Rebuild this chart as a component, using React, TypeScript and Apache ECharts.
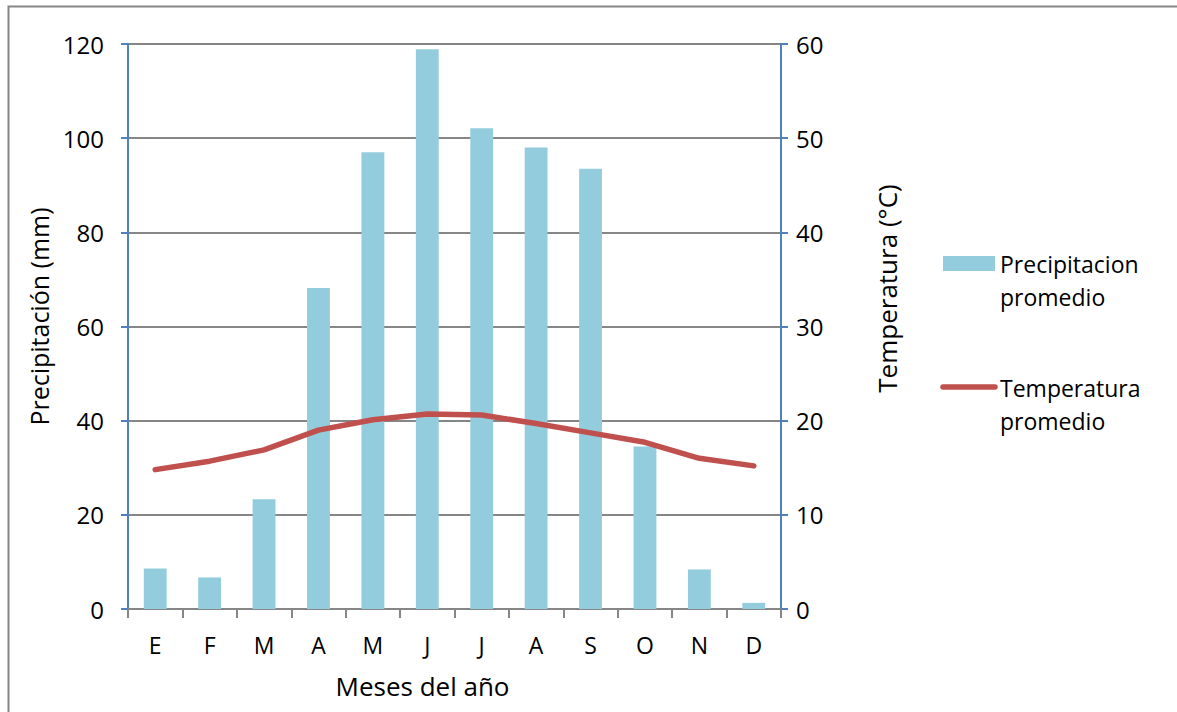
import React, { useEffect, useRef } from "react";
import * as echarts from "echarts";

const months = ["E", "F", "M", "A", "M", "J", "J", "A", "S", "O", "N", "D"];
const precipitation = [8.6, 6.7, 23.3, 68.2, 97.0, 118.9, 102.1, 98.0, 93.5, 34.5, 8.4, 1.3];
const temperature = [14.8, 15.7, 16.9, 19.0, 20.1, 20.7, 20.6, 19.7, 18.7, 17.7, 16.0, 15.2];
const leftTicks = { min: 0, max: 120, interval: 20 };
const rightTicks = { min: 0, max: 60, interval: 10 };

const FONT = "'Open Sans', sans-serif";
const BAR = "#93CDDD";
const LINE = "#C0504D";
const AXIS_BLUE = "#4F81BD";
const GRAY = "#868686";

export default function App() {
  const ref = useRef<HTMLDivElement>(null);
  useEffect(() => {
    if (!ref.current) return;
    const chart = echarts.init(ref.current, null, { renderer: "svg" });
    chart.setOption({
      animation: false,
      backgroundColor: "#ffffff",
      textStyle: { fontFamily: FONT },
      grid: { left: 128, right: 396, top: 44, bottom: 103 },
      xAxis: {
        type: "category",
        data: months,
        name: "Meses del año",
        nameLocation: "middle",
        nameGap: 64,
        nameTextStyle: { fontSize: 26, color: "#000", fontFamily: FONT, padding: [0, 64, 0, 0] },
        axisLine: { lineStyle: { color: GRAY, width: 2 } },
        axisTick: { show: true, length: 9, lineStyle: { color: GRAY, width: 2 } },
        axisLabel: { margin: 24, fontSize: 23, color: "#000", fontFamily: FONT },
      },
      yAxis: [
        {
          type: "value",
          min: leftTicks.min,
          max: leftTicks.max,
          interval: leftTicks.interval,
          name: "Precipitación (mm)",
          nameLocation: "middle",
          nameGap: 73,
          nameRotate: 90,
          nameTextStyle: { fontSize: 25, color: "#000", fontFamily: FONT, padding: [0, 0, 0, 20] },
          axisLine: { show: true, lineStyle: { color: AXIS_BLUE, width: 2 } },
          axisTick: { show: true, length: 7, lineStyle: { color: AXIS_BLUE, width: 2 } },
          axisLabel: { margin: 24, fontSize: 24, color: "#000", fontFamily: FONT },
          splitLine: { show: true, lineStyle: { color: GRAY, width: 2 } },
        },
        {
          type: "value",
          min: rightTicks.min,
          max: rightTicks.max,
          interval: rightTicks.interval,
          name: "Temperatura (°C)",
          nameLocation: "middle",
          nameGap: 93,
          nameRotate: 90,
          nameTextStyle: { fontSize: 26, color: "#000", fontFamily: FONT, padding: [0, 0, 0, 76] },
          axisLine: { show: true, lineStyle: { color: AXIS_BLUE, width: 2 } },
          axisTick: { show: true, length: 7, lineStyle: { color: AXIS_BLUE, width: 2 } },
          axisLabel: { margin: 15, fontSize: 24, color: "#000", fontFamily: FONT },
          splitLine: { show: false },
        },
      ],
      series: [
        {
          name: "Precipitacion promedio",
          type: "bar",
          yAxisIndex: 0,
          data: precipitation,
          barCategoryGap: "58%",
          itemStyle: { color: BAR },
        },
        {
          name: "Temperatura promedio",
          type: "line",
          yAxisIndex: 1,
          data: temperature,
          showSymbol: false,
          symbol: "none",
          lineStyle: { color: LINE, width: 5.5, cap: "round", join: "round" },
          itemStyle: { color: LINE },
        },
      ],
      graphic: [
        {
          type: "rect",
          silent: true,
          shape: { x: 8.5, y: 6.5, width: 1200, height: 800 },
          style: { fill: "none", stroke: GRAY, lineWidth: 2 },
          z: -10,
        },
        {
          type: "rect",
          shape: { x: 943, y: 256, width: 52, height: 15 },
          style: { fill: BAR },
        },
        {
          type: "text",
          x: 1000,
          y: 280,
          style: {
            text: "Precipitacion\npromedio",
            font: `23px ${FONT}`,
            fill: "#000",
            verticalAlign: "middle",
            lineHeight: 33,
          },
        },
        {
          type: "line",
          shape: { x1: 943, y1: 387, x2: 995, y2: 387 },
          style: { stroke: LINE, lineWidth: 5.5, lineCap: "round" },
        },
        {
          type: "text",
          x: 1000,
          y: 404,
          style: {
            text: "Temperatura\npromedio",
            font: `23px ${FONT}`,
            fill: "#000",
            verticalAlign: "middle",
            lineHeight: 33,
          },
        },
      ],
    });
    return () => chart.dispose();
  }, []);
  return (
    <div
      ref={ref}
      style={{ position: "absolute", left: 0, top: 0, width: 1177, height: 712 }}
    />
  );
}
